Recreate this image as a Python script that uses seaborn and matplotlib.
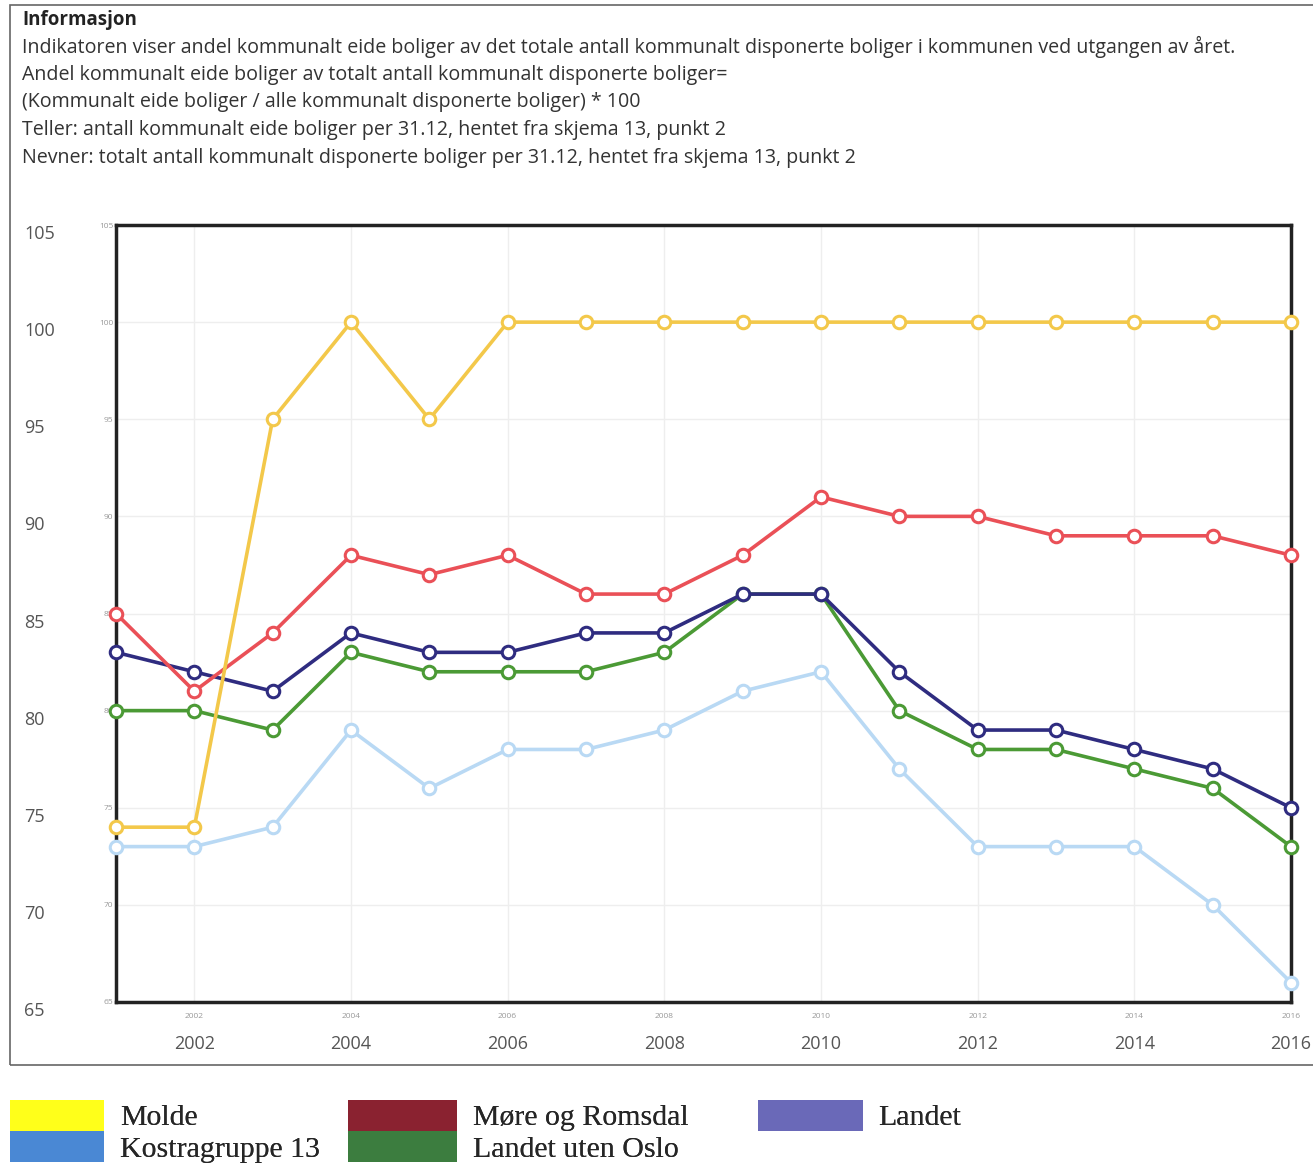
import pandas as pd
import seaborn as sns
import matplotlib
matplotlib.use("Agg")
from matplotlib import pyplot as plt
from matplotlib.patches import Patch, Rectangle

# Data
years = list(range(2001, 2017))
molde = [74, 74, 95, 100, 95, 100, 100, 100, 100, 100, 100, 100, 100, 100, 100, 100]
more_og_romsdal = [85, 81, 84, 88, 87, 88, 86, 86, 88, 91, 90, 90, 89, 89, 89, 88]
landet = [83, 82, 81, 84, 83, 83, 84, 84, 86, 86, 82, 79, 79, 78, 77, 75]
landet_uten_oslo = [80, 80, 79, 83, 82, 82, 82, 83, 86, 86, 80, 78, 78, 77, 76, 73]
kostragruppe = [73, 73, 74, 79, 76, 78, 78, 79, 81, 82, 77, 73, 73, 73, 70, 66]

y_ticks = [65, 70, 75, 80, 85, 90, 95, 100, 105]
x_ticks = [2002, 2004, 2006, 2008, 2010, 2012, 2014, 2016]

info_lines = [
    "Indikatoren viser andel kommunalt eide boliger av det totale antall kommunalt disponerte boliger i kommunen ved utgangen av året.",
    "Andel kommunalt eide boliger av totalt antall kommunalt disponerte boliger=",
    "(Kommunalt eide boliger / alle kommunalt disponerte boliger) * 100",
    "Teller: antall kommunalt eide boliger per 31.12, hentet fra skjema 13, punkt 2",
    "Nevner: totalt antall kommunalt disponerte boliger per 31.12, hentet fra skjema 13, punkt 2",
]

series = {
    "Kostragruppe 13": kostragruppe,
    "Landet uten Oslo": landet_uten_oslo,
    "Landet": landet,
    "Møre og Romsdal": more_og_romsdal,
    "Molde": molde,
}
line_colors = {
    "Kostragruppe 13": "#b9d9f4",
    "Landet uten Oslo": "#4b9a35",
    "Landet": "#2f2c80",
    "Møre og Romsdal": "#ea5057",
    "Molde": "#f3c84a",
}
legend_colors = {
    "Molde": "#ffff1a",
    "Kostragruppe 13": "#4a88d4",
    "Møre og Romsdal": "#8a2230",
    "Landet uten Oslo": "#3c7d3f",
    "Landet": "#6a69b8",
}

rows = []
for name, vals in series.items():
    for yr, v in zip(years, vals):
        rows.append({"year": yr, "value": v, "series": name})
df = pd.DataFrame(rows)

sns.set_style("white")
plt.rcParams["font.family"] = ["Open Sans", "DejaVu Sans"]

fig = plt.figure(figsize=(13.13, 11.67), dpi=100)
ax = fig.add_axes([116 / 1313, 1 - 1002 / 1167, (1291 - 116) / 1313, (1002 - 225) / 1167])

for name in series:
    sns.lineplot(data=df[df["series"] == name], x="year", y="value", color=line_colors[name],
                 linewidth=2.6, marker="o", markersize=9, markerfacecolor="white",
                 markeredgecolor=line_colors[name], markeredgewidth=2.2, legend=False, ax=ax,
                 clip_on=False, zorder=3)

ax.set_xlim(2001, 2016)
ax.set_ylim(65, 105)
ax.set_xlabel("")
ax.set_ylabel("")
ax.set_xticks(x_ticks)
ax.set_yticks(y_ticks)
ax.tick_params(axis="both", length=0, labelsize=6, labelcolor="#999999", pad=2)
ax.tick_params(axis="x", pad=8)
ax.grid(True, color="#eeeeee", linewidth=1)
for s in ax.spines.values():
    s.set_color("#222222")
    s.set_linewidth(2.5)

# Outer (larger) tick labels
sec_y = ax.secondary_yaxis(-0.078)
sec_y.set_yticks(y_ticks)
sec_y.tick_params(length=0, labelsize=13, labelcolor="#555555", pad=0)
sec_y.spines["left"].set_visible(False)
for lbl in sec_y.get_yticklabels():
    lbl.set_horizontalalignment("left")
    lbl.set_verticalalignment("top")

sec_x = ax.secondary_xaxis(-0.035)
sec_x.set_xticks(x_ticks)
sec_x.tick_params(length=0, labelsize=13, labelcolor="#555555", pad=4)
sec_x.spines["bottom"].set_visible(False)

# Info box
fig.patches.append(Rectangle((10 / 1313, 1 - 1065 / 1167), 1.0, (1065 - 5) / 1167,
                             transform=fig.transFigure, fill=False, edgecolor="#666666",
                             linewidth=1.2))
fig.text(22 / 1313, 1 - 20 / 1167, "Informasjon", fontsize=13.5, fontweight="bold",
         color="#222222", va="center")
for i, line in enumerate(info_lines):
    fig.text(22 / 1313, 1 - (47 + 27.7 * i) / 1167, line, fontsize=14.1, color="#333333",
             va="center")

# Legend: three columns, each its own legend so the swatch widths can differ
legend_font = {"family": "Liberation Serif", "size": 21.5}
legend_cols = [
    (["Molde", "Kostragruppe 13"], 10, 3.15),
    (["Møre og Romsdal", "Landet uten Oslo"], 348, 3.65),
    (["Landet"], 758, 3.5),
]
for names, x0, hl in legend_cols:
    handles = [Patch(facecolor=legend_colors[n], edgecolor="none") for n in names]
    leg = fig.legend(handles, names, loc="upper left", bbox_to_anchor=(x0 / 1313, 1 - 1100 / 1167),
                     frameon=False, prop=legend_font, handlelength=hl, handleheight=1.2,
                     labelspacing=0.0, handletextpad=0.53, borderpad=0, borderaxespad=0)
    fig.add_artist(leg)

fig.savefig("out.png", dpi=100, facecolor="white")
